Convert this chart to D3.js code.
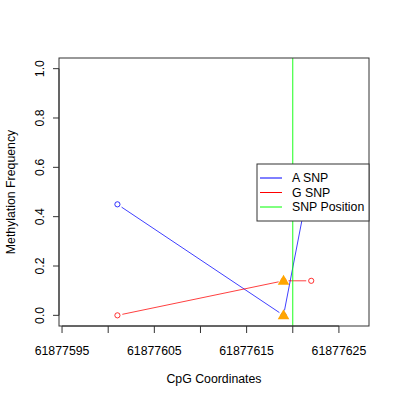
<!DOCTYPE html>
<html>
<head>
<meta charset="utf-8">
<script src="https://cdn.jsdelivr.net/npm/d3@7"></script>
<style>
  body { margin: 0; background: #fff; }
  text { font-family: "Liberation Sans", Arial, sans-serif; fill: #000; font-size: 12.3px; }
</style>
</head>
<body>
<script>
// CpG positions and methylation per allele
var positions = [61877601, 61877619, 61877622];
var aSNP = [0.45, 0.0, 0.58];
var gSNP = [0.0, 0.14, 0.14];
var snpPosition = 61877620;
var snpCpG = [61877619];          // CpGs flagged with a triangle
var xTicks = [61877595, 61877600, 61877605, 61877610, 61877615, 61877620, 61877625];
var xLabels = [61877595, 61877605, 61877615, 61877625];
var yTicks = [0, 0.2, 0.4, 0.6, 0.8, 1.0];
var legendNames = ["A SNP", "G SNP", "SNP Position"];
var legendColors = ["#0000ff", "#ff0000", "#00ff00"];

var margin = {top: 58, right: 31, bottom: 74, left: 59},
    width = 400 - margin.left - margin.right,
    height = 400 - margin.top - margin.bottom;

var x = d3.scaleLinear().domain([61877594.67, 61877628.26]).range([0, width]);
var y = d3.scaleLinear().domain([-0.0432, 1.0432]).range([height, 0]);

var svg = d3.select("body").append("svg")
    .attr("width", 400)
    .attr("height", 400)
  .append("g")
    .attr("transform", "translate(" + margin.left + "," + margin.top + ")");

// build series as point lists
function series(vals) {
  return positions.map(function(p, i) { return {x: p, y: vals[i]}; });
}
var sA = series(aSNP), sG = series(gSNP);

// R type="b": segments with a gap round each point
function drawSeries(pts, color) {
  var gap = 5;
  for (var i = 0; i < pts.length - 1; i++) {
    var x1 = x(pts[i].x), y1 = y(pts[i].y), x2 = x(pts[i + 1].x), y2 = y(pts[i + 1].y);
    var len = Math.hypot(x2 - x1, y2 - y1);
    if (len <= 2 * gap) continue;
    var ux = (x2 - x1) / len, uy = (y2 - y1) / len;
    svg.append("line")
        .attr("x1", x1 + ux * gap).attr("y1", y1 + uy * gap)
        .attr("x2", x2 - ux * gap).attr("y2", y2 - uy * gap)
        .attr("stroke", color).attr("stroke-width", 0.75);
  }
  svg.selectAll(null)
      .data(pts)
    .enter().append("circle")
      .attr("cx", function(d) { return x(d.x); })
      .attr("cy", function(d) { return y(d.y); })
      .attr("r", 2.6)
      .attr("fill", "none")
      .attr("stroke", color)
      .attr("stroke-width", 0.8);
}

drawSeries(sA, legendColors[0]);
drawSeries(sG, legendColors[1]);

// snp position line
svg.append("line")
    .attr("x1", x(snpPosition)).attr("x2", x(snpPosition))
    .attr("y1", 0).attr("y2", height)
    .attr("stroke", legendColors[2]).attr("stroke-width", 0.9);

// triangles at flagged CpGs
var tri = d3.symbol().type(d3.symbolTriangle).size(58);
var flagged = sA.concat(sG).filter(function(d) { return snpCpG.indexOf(d.x) >= 0; });
svg.selectAll(".tri")
    .data(flagged)
  .enter().append("path")
    .attr("class", "tri")
    .attr("d", tri)
    .attr("transform", function(d) { return "translate(" + x(d.x) + "," + (y(d.y) + 0.5) + ")"; })
    .attr("fill", "#ffa500");

// box
svg.append("rect")
    .attr("width", width).attr("height", height)
    .attr("fill", "none").attr("stroke", "#333").attr("stroke-width", 1);

// x axis
var xa = svg.append("g").attr("transform", "translate(0," + height + ")");
xa.append("line")
    .attr("x1", x(xTicks[0])).attr("x2", x(xTicks[xTicks.length - 1]))
    .attr("stroke", "#333");
xa.selectAll(".tk").data(xTicks).enter().append("line")
    .attr("x1", function(d) { return x(d); }).attr("x2", function(d) { return x(d); })
    .attr("y1", 0).attr("y2", 7).attr("stroke", "#333");
xa.selectAll(".lb").data(xLabels).enter().append("text")
    .attr("x", function(d) { return x(d); })
    .attr("y", 29)
    .attr("text-anchor", "middle")
    .text(function(d) { return d; });

// y axis
var ya = svg.append("g");
ya.append("line")
    .attr("y1", y(yTicks[0])).attr("y2", y(yTicks[yTicks.length - 1]))
    .attr("stroke", "#333");
ya.selectAll(".tk").data(yTicks).enter().append("line")
    .attr("y1", function(d) { return y(d); }).attr("y2", function(d) { return y(d); })
    .attr("x1", 0).attr("x2", -6).attr("stroke", "#333");
ya.selectAll(".lb").data(yTicks).enter().append("text")
    .attr("transform", function(d) { return "translate(-15," + y(d) + ") rotate(-90)"; })
    .attr("text-anchor", "middle")
    .text(function(d) { return d3.format(".1f")(d); });

// axis titles
svg.append("text")
    .attr("x", width / 2).attr("y", height + 57)
    .attr("text-anchor", "middle")
    .text("CpG Coordinates");
svg.append("text")
    .attr("transform", "translate(-44," + height / 2 + ") rotate(-90)")
    .attr("text-anchor", "middle")
    .text("Methylation Frequency");

// legend
var lg = svg.append("g").attr("transform", "translate(" + (257 - margin.left) + "," + (164 - margin.top) + ")");
lg.append("rect")
    .attr("width", width - (257 - margin.left)).attr("height", 57)
    .attr("fill", "#fff").attr("stroke", "#333");
legendNames.forEach(function(n, i) {
  lg.append("line")
      .attr("x1", 3).attr("x2", 25)
      .attr("y1", 14 + i * 14.5).attr("y2", 14 + i * 14.5)
      .attr("stroke", legendColors[i]);
  lg.append("text")
      .attr("x", 35).attr("y", 18 + i * 14.5)
      .text(n);
});
</script>
</body>
</html>
